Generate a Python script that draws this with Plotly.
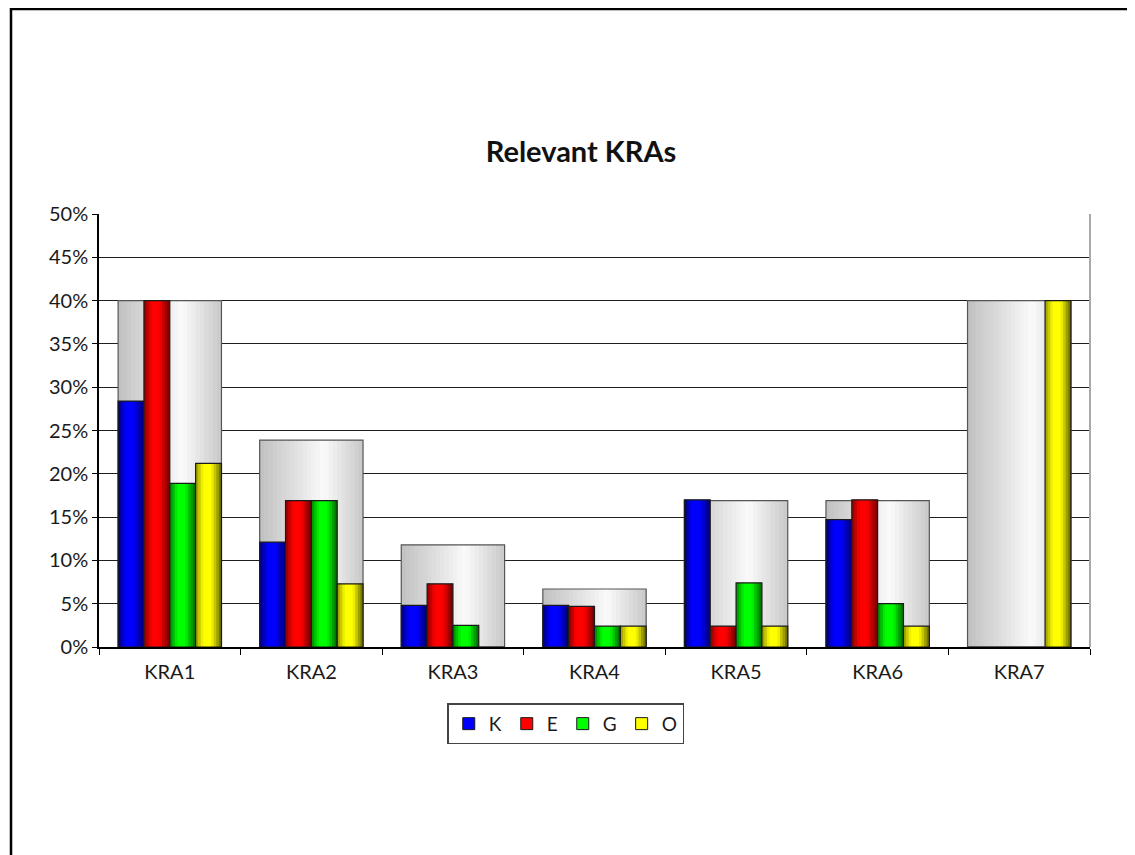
import plotly.graph_objects as go

categories = ["KRA1", "KRA2", "KRA3", "KRA4", "KRA5", "KRA6", "KRA7"]
series_names = ["K", "E", "G", "O"]

total_vals = [0.400, 0.239, 0.118, 0.067, 0.169, 0.169, 0.400]
k_vals = [0.284, 0.121, 0.048, 0.048, 0.170, 0.147, 0.0]
e_vals = [0.400, 0.169, 0.073, 0.047, 0.024, 0.170, 0.0]
g_vals = [0.189, 0.169, 0.025, 0.024, 0.074, 0.050, 0.0]
o_vals = [0.212, 0.073, 0.0, 0.024, 0.024, 0.024, 0.400]

y_ticks = [0, 0.05, 0.10, 0.15, 0.20, 0.25, 0.30, 0.35, 0.40, 0.45, 0.50]

# shading (left edge, centre, right edge) for the cylinder look
shades = {
    "K": ((0, 0, 120), (0, 0, 255), (0, 0, 110)),
    "E": ((140, 0, 0), (255, 0, 0), (110, 0, 0)),
    "G": ((0, 130, 0), (0, 255, 0), (0, 100, 0)),
    "O": ((150, 150, 0), (255, 255, 0), (100, 100, 0)),
}
gray_shade = ((192, 192, 192), (250, 250, 250), (200, 200, 200))

GROUP_W = 0.73
N_GRAY = 24
N_COL = 10

# plot area in figure pixels
L, T, W, H = 91, 206, 991, 433


def lerp(a, b, t):
    return tuple(int(round(a[i] + (b[i] - a[i]) * t)) for i in range(3))


def shade_at(stops, t):
    for (t0, c0), (t1, c1) in zip(stops[:-1], stops[1:]):
        if t <= t1:
            return lerp(c0, c1, (t - t0) / (t1 - t0) if t1 > t0 else 0)
    return stops[-1][1]


def add_strips(fig, yvals, left, width, stops, n, line_color):
    sw = width / n
    for j in range(n):
        c = shade_at(stops, (j + 0.5) / n)
        w = sw * 1.4 if j < n - 1 else sw
        fig.add_trace(go.Bar(
            x=categories, y=yvals, offset=left + j * sw, width=w,
            marker=dict(color="rgb(%d,%d,%d)" % c, line=dict(width=0)),
            showlegend=False, hoverinfo="skip"))
    fig.add_trace(go.Bar(
        x=categories, y=yvals, offset=left, width=width,
        marker=dict(color="rgba(0,0,0,0)", line=dict(color=line_color, width=1.2)),
        showlegend=False, hoverinfo="skip"))


fig = go.Figure()

gl, gc, gr = gray_shade
add_strips(fig, total_vals, -GROUP_W / 2, GROUP_W,
           [(0, gl), (0.62, gc), (1, gr)], N_GRAY, "#555555")

bw = GROUP_W / 4
for i, (name, vals) in enumerate(zip(series_names, [k_vals, e_vals, g_vals, o_vals])):
    l, c, r = shades[name]
    add_strips(fig, vals, -GROUP_W / 2 + i * bw, bw,
               [(0, l), (0.3, c), (0.6, c), (1, r)], N_COL, "#1a1a1a")

# legend entries
for name in series_names:
    fig.add_trace(go.Bar(
        x=[categories[0]], y=[None], name=name,
        marker=dict(color="rgb(%d,%d,%d)" % shades[name][1],
                    line=dict(color="#1a1a1a", width=1))))

fig.update_layout(
    width=1135, height=855,
    barmode="overlay",
    plot_bgcolor="white", paper_bgcolor="white",
    margin=dict(l=L, r=1135 - L - W, t=T, b=855 - T - H),
    font=dict(family="Lato, Open Sans, sans-serif", size=20, color="#1a1a1a"),
    title=dict(text="<b>Relevant KRAs</b>", x=573 / 1135, xref="container", xanchor="center",
               y=1 - 144 / 855, yref="container", yanchor="middle",
               font=dict(size=29, color="#111111")),
    xaxis=dict(type="category", range=[-0.5, 6.5], showline=True, linecolor="black",
               linewidth=1.5, ticks="outside", tickson="boundaries", ticklen=6,
               tickcolor="black", showgrid=False, ticklabelstandoff=6),
    yaxis=dict(range=[0, 0.5], tickvals=y_ticks, tickformat=".0%", showline=True,
               linecolor="black", linewidth=1.5, ticks="outside", ticklen=5,
               tickcolor="black", showgrid=True, gridcolor="#1f1f1f", gridwidth=1,
               zeroline=False),
    legend=dict(orientation="h", x=0.471, xanchor="center", y=-0.13, yanchor="top",
                bordercolor="#444444", borderwidth=1.5, font=dict(size=19),
                itemwidth=30, traceorder="normal"),
    shapes=[
        dict(type="line", xref="paper", yref="paper", x0=1, x1=1, y0=0, y1=1,
             line=dict(color="#aaaaaa", width=2)),
        dict(type="rect", xref="paper", yref="paper",
             x0=(3 - L) / W, x1=1.2, y0=-1.2, y1=(T + H - 1) / H,
             line=dict(color="black", width=2.5), layer="below"),
    ],
)

fig.write_html("out.html")
